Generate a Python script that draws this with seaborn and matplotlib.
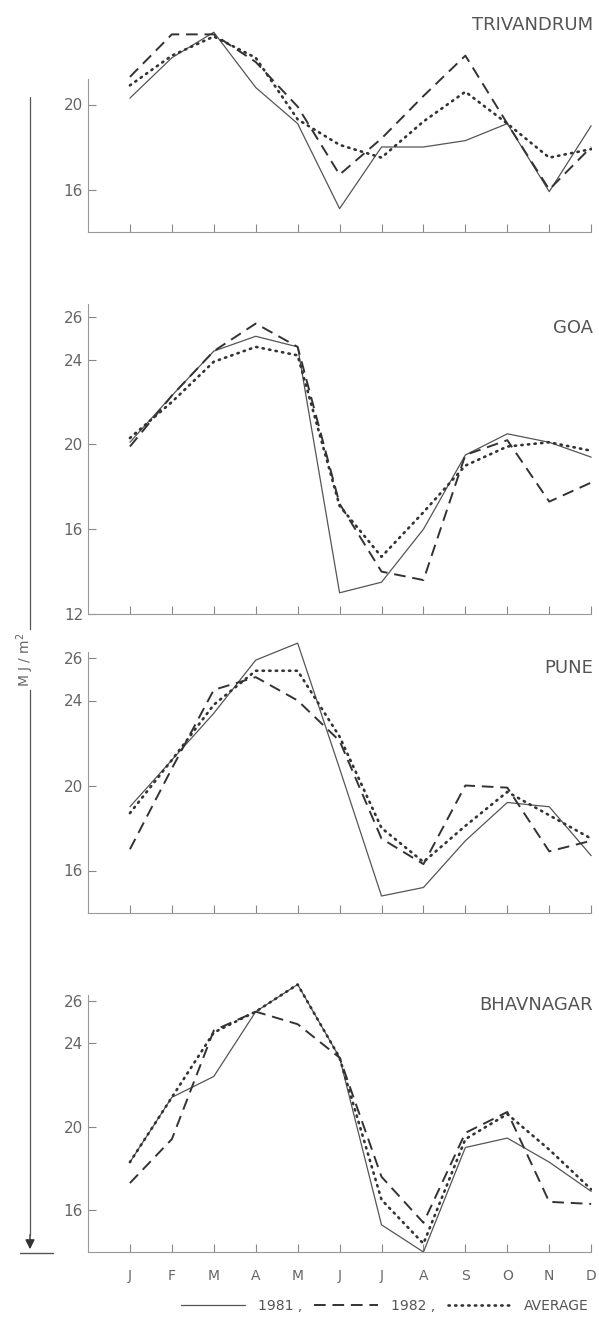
import numpy as np
import pandas as pd
import matplotlib
matplotlib.use("Agg")
import matplotlib.pyplot as plt
from matplotlib.lines import Line2D
import seaborn as sns

# monthly mean daily global radiation, MJ/m^2
months = ["J", "F", "M", "A", "M", "J", "J", "A", "S", "O", "N", "D"]
series_names = ["1981", "1982", "AVERAGE"]

triv_1981 = [20.3, 22.2, 23.4, 20.8, 19.1, 15.1, 18.0, 18.0, 18.3, 19.1, 15.9, 19.0]
triv_1982 = [21.3, 23.3, 23.3, 22.0, 19.9, 16.7, 18.4, 20.4, 22.3, 19.1, 16.0, 18.0]
triv_avg = [20.9, 22.3, 23.2, 22.2, 19.3, 18.1, 17.5, 19.2, 20.6, 19.1, 17.5, 17.9]

goa_1981 = [20.1, 22.3, 24.4, 25.1, 24.6, 13.0, 13.5, 16.0, 19.5, 20.5, 20.1, 19.4]
goa_1982 = [19.9, 22.3, 24.4, 25.7, 24.6, 17.2, 14.0, 13.6, 19.5, 20.2, 17.3, 18.2]
goa_avg = [20.3, 22.0, 23.9, 24.6, 24.2, 17.1, 14.7, 16.8, 19.0, 19.9, 20.1, 19.7]

pune_1981 = [19.0, 21.2, 23.4, 25.9, 26.7, 20.8, 14.8, 15.2, 17.4, 19.2, 19.0, 16.7]
pune_1982 = [17.0, 20.8, 24.5, 25.1, 24.0, 22.1, 17.5, 16.3, 20.0, 19.9, 16.9, 17.4]
pune_avg = [18.7, 21.2, 23.8, 25.4, 25.4, 22.3, 18.0, 16.4, 18.1, 19.7, 18.6, 17.5]

bhav_1981 = [18.3, 21.4, 22.4, 25.5, 26.8, 23.3, 15.3, 14.0, 19.0, 19.45, 18.3, 16.9]
bhav_1982 = [17.3, 19.4, 24.6, 25.5, 24.9, 23.3, 17.6, 15.4, 19.7, 20.7, 16.4, 16.3]
bhav_avg = [18.3, 21.4, 24.5, 25.5, 26.8, 23.3, 16.5, 14.4, 19.4, 20.6, 18.9, 17.0]

stations = ["TRIVANDRUM", "GOA", "PUNE", "BHAVNAGAR"]
station_data = [
    (triv_1981, triv_1982, triv_avg),
    (goa_1981, goa_1982, goa_avg),
    (pune_1981, pune_1982, pune_avg),
    (bhav_1981, bhav_1982, bhav_avg),
]
yticks = [[16, 20], [12, 16, 20, 24, 26], [16, 20, 24, 26], [16, 20, 24, 26]]

# layout in pixels (top origin): bottom of axes, ylim, pixels per unit, title pos, spine top
panels = [
    (232, (14, 24), 21.25, 0.974, 21.2),
    (614, (12, 27), 21.2, 0.90, 26.6),
    (913, (14, 27), 21.25, 0.887, 26.3),
    (1252, (14, 27), 20.9, 0.909, 26.3),
]

W, H = 599, 1326
sns.set_theme(style="white")
plt.rcParams["font.family"] = ["DejaVu Sans"]

styles = {
    "1981": dict(color="#555555", lw=0.9, linestyle="-"),
    "1982": dict(color="#333333", lw=1.4, linestyle=(0, (6, 3.5))),
    "AVERAGE": dict(color="#333333", lw=1.9, linestyle=(0, (0.5, 2.0)), dash_capstyle="round"),
}

fig = plt.figure(figsize=(W / 100, H / 100), dpi=100)
left, right = 88, 592
x = np.arange(len(months))

axes = []
for i, (name, vals) in enumerate(zip(stations, station_data)):
    ybot, ylim, ppu, ty, stop = panels[i]
    height = (ylim[1] - ylim[0]) * ppu
    ax = fig.add_axes([left / W, (H - ybot) / H, (right - left) / W, height / H])
    df = pd.DataFrame({"m": np.tile(x, 3),
                       "value": np.concatenate(vals),
                       "series": np.repeat(series_names, len(months))})
    for s in series_names:
        sns.lineplot(data=df[df["series"] == s], x="m", y="value", ax=ax,
                     label=s, legend=False, **styles[s])
    ax.set_xlim(-1, 11.02)
    ax.set_ylim(*ylim)
    ax.set_xticks(x)
    ax.set_yticks(yticks[i])
    ax.set_xlabel("")
    ax.set_ylabel("")
    if i == 3:
        ax.set_xticklabels(months)
    else:
        ax.set_xticklabels([])
    for sp in ["top", "right"]:
        ax.spines[sp].set_visible(False)
    for sp in ["left", "bottom"]:
        ax.spines[sp].set_color("#999999")
        ax.spines[sp].set_linewidth(0.8)
    ax.spines["left"].set_bounds(ylim[0], stop)
    ax.spines["bottom"].set_bounds(-1, 11)
    ax.tick_params(axis="both", direction="in", length=6, width=0.8, color="#888888",
                   labelcolor="#666666", labelsize=11, bottom=True, left=True)
    ax.tick_params(axis="x", pad=12, labelsize=10)
    ax.patch.set_alpha(0)
    ax.text(1.002, ty, name, transform=ax.transAxes, ha="right", va="center",
            fontsize=13, color="#555555")
    axes.append(ax)

# legend at the bottom
handles = axes[3].get_lines()[:3]
fig.legend(handles, ["1981 ,", "1982 ,", "AVERAGE"], loc="center",
           bbox_to_anchor=(385 / W, 1 - 1306 / H), ncol=3, frameon=False,
           handlelength=4.6, columnspacing=0.9, handletextpad=0.9,
           fontsize=10, labelcolor="#555555")

# long y-axis arrow with unit label
fig.add_artist(Line2D([30 / W, 30 / W], [1 - 97 / H, 1 - 1235 / H],
                      transform=fig.transFigure, color="#555555", lw=0.9))
fig.add_artist(Line2D([20 / W, 53 / W], [1 - 1253 / H, 1 - 1253 / H],
                      transform=fig.transFigure, color="#555555", lw=1.0))
axes[0].annotate("", xy=(30, H - 1252), xycoords="figure pixels",
                 xytext=(30, H - 1232), textcoords="figure pixels",
                 arrowprops=dict(arrowstyle="-|>", color="#333333", lw=1.0,
                                 mutation_scale=14))
fig.text(25 / W, 1 - 660 / H, "M J / m$^2$", rotation=90, ha="center", va="center",
         fontsize=10, color="#666666",
         bbox=dict(facecolor="white", edgecolor="none", pad=2))

fig.savefig("out.png", dpi=100, facecolor="white")
